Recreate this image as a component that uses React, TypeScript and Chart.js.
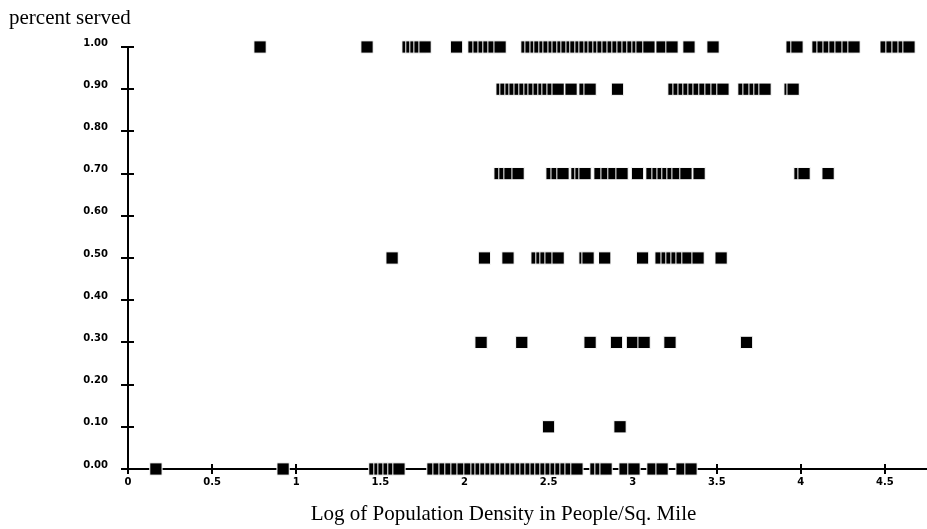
import React, { useEffect, useRef } from 'react';
import { Chart, registerables } from 'chart.js';

Chart.register(...registerables);

// ---- tick values and labels ----
const xTickValues = [0, 0.5, 1, 1.5, 2, 2.5, 3, 3.5, 4, 4.5];
const xTickLabels = ['0', '0.5', '1', '1.5', '2', '2.5', '3', '3.5', '4', '4.5'];
const yTickValues = [0, 0.1, 0.2, 0.3, 0.4, 0.5, 0.6, 0.7, 0.8, 0.9, 1.0];
const yTickLabels = ['0.00', '0.10', '0.20', '0.30', '0.40', '0.50', '0.60', '0.70', '0.80', '0.90', '1.00'];

const chartTitle = 'percent served';
const xAxisTitle = 'Log of Population Density in People/Sq. Mile';

// ---- data: log population density of each observation, grouped by percent served ----
const served100 = [
  0.785, 1.421, 1.665, 1.688, 1.712, 1.736, 1.766, 1.953, 2.057, 2.087, 2.117, 2.146, 2.176, 2.212,
  2.372, 2.396, 2.426, 2.449, 2.479, 2.503, 2.533, 2.557, 2.586, 2.61, 2.64, 2.663, 2.693, 2.717,
  2.747, 2.771, 2.8, 2.824, 2.854, 2.884, 2.913, 2.943, 2.973, 3.002, 3.032,
  3.056, 3.097, 3.175, 3.234, 3.335, 3.478,
  3.948, 3.977, 4.102, 4.132, 4.168, 4.203, 4.239, 4.281, 4.316,
  4.507, 4.542, 4.578, 4.614, 4.643,
];
const served090 = [
  2.224, 2.247, 2.277, 2.301, 2.331, 2.36, 2.39, 2.414, 2.444, 2.473, 2.497, 2.527, 2.557,
  2.634, 2.717, 2.747, 2.91,
  3.246, 3.276, 3.306, 3.335, 3.365, 3.395, 3.43, 3.466, 3.502, 3.537,
  3.662, 3.692, 3.728, 3.757, 3.787, 3.936, 3.954,
];
const served070 = [
  2.212, 2.241, 2.271, 2.319, 2.521, 2.551, 2.586, 2.669, 2.693, 2.717,
  2.806, 2.848, 2.889, 2.937, 3.029, 3.115, 3.151, 3.181, 3.21, 3.24, 3.27, 3.317, 3.395,
  3.995, 4.019, 4.162,
];
const served050 = [
  1.57, 2.119, 2.259, 2.432, 2.461, 2.485, 2.515, 2.557, 2.717, 2.735, 2.834,
  3.059, 3.169, 3.205, 3.234, 3.264, 3.294, 3.329, 3.389, 3.526,
];
const served030 = [2.099, 2.341, 2.747, 2.904, 2.999, 3.068, 3.222, 3.677];
const served010 = [2.5, 2.925];
const served000 = [
  0.166, 0.922, 1.468, 1.498, 1.522, 1.552, 1.581, 1.611,
  1.813, 1.849, 1.885, 1.92, 1.956, 1.992, 2.033, 2.075, 2.099, 2.128, 2.158, 2.188, 2.218,
  2.247, 2.277, 2.307, 2.337, 2.366, 2.396, 2.426, 2.455, 2.485, 2.515, 2.545, 2.574, 2.604,
  2.634, 2.669, 2.782, 2.812, 2.842, 2.955, 3.008, 3.121, 3.175, 3.294, 3.347,
];

const rowLevels = [1.0, 0.9, 0.7, 0.5, 0.3, 0.1, 0.0];
const rowSeries = [served100, served090, served070, served050, served030, served010, served000];

const W = 927;
const H = 529;

const axisDecor = {
  id: 'axisDecor',
  beforeDatasetsDraw(chart: any) {
    const { ctx, scales } = chart;
    const xs = scales.x;
    const ys = scales.y;
    const x0 = xs.getPixelForValue(0);
    const y0 = ys.getPixelForValue(0);
    ctx.save();
    ctx.strokeStyle = '#000';
    ctx.lineWidth = 2;
    ctx.beginPath();
    ys.ticks.forEach((t: any) => {
      const py = Math.round(ys.getPixelForValue(t.value));
      ctx.moveTo(x0 - 7, py);
      ctx.lineTo(x0 + 6, py);
    });
    xs.ticks.forEach((t: any) => {
      const px = Math.round(xs.getPixelForValue(t.value));
      ctx.moveTo(px, y0 - 5);
      ctx.lineTo(px, y0 + 5);
    });
    ctx.stroke();
    ctx.restore();
  },
  afterDraw(chart: any) {
    const { ctx } = chart;
    ctx.save();
    ctx.fillStyle = '#000';
    ctx.font = '21px "Liberation Serif"';
    ctx.textAlign = 'center';
    ctx.textBaseline = 'alphabetic';
    ctx.fillText(xAxisTitle, 503.5, 520);
    ctx.restore();
  },
};

export default function App() {
  const ref = useRef<HTMLCanvasElement | null>(null);

  useEffect(() => {
    if (!ref.current) return;
    const tickFont = { family: 'DejaVu Sans', size: 10, weight: 'bold' as const };
    const chart = new Chart(ref.current, {
      type: 'scatter',
      data: {
        datasets: rowSeries.map((xs, i) => ({
          label: yTickLabels[Math.round(rowLevels[i] * 10)],
          data: xs.map((x) => ({ x, y: rowLevels[i] })),
          pointStyle: 'rect',
          pointRadius: 8.7,
          pointHoverRadius: 8.7,
          backgroundColor: '#000',
          borderColor: '#fff',
          borderWidth: 1,
          clip: false as any,
        })),
      },
      options: {
        responsive: false,
        animation: false,
        devicePixelRatio: 1,
        events: [],
        layout: { autoPadding: false, padding: { left: 9, top: 0, right: 0, bottom: 0 } },
        plugins: {
          legend: { display: false },
          tooltip: { enabled: false },
          title: {
            display: true,
            text: chartTitle,
            align: 'start',
            color: '#000',
            font: { family: 'Liberation Serif', size: 21, weight: 'normal', lineHeight: 1 },
            padding: { top: 7.5, bottom: 18.5 },
          },
        },
        scales: {
          x: {
            type: 'linear',
            min: 0,
            max: 4.75,
            afterBuildTicks: (s: any) => {
              s.ticks = xTickValues.map((v) => ({ value: v }));
            },
            afterFit: (s: any) => {
              s.height = 60;
            },
            grid: { display: false, drawTicks: false },
            border: { display: true, color: '#000', width: 2 },
            ticks: {
              autoSkip: false,
              maxRotation: 0,
              padding: 7,
              color: '#000',
              font: tickFont,
              callback: (_v: any, i: number) => xTickLabels[i],
            },
          },
          y: {
            type: 'linear',
            min: 0,
            max: 1,
            afterBuildTicks: (s: any) => {
              s.ticks = yTickValues.map((v) => ({ value: v }));
            },
            afterFit: (s: any) => {
              s.width = 119;
            },
            grid: { display: false, drawTicks: false },
            border: { display: true, color: '#000', width: 2 },
            ticks: {
              autoSkip: false,
              padding: 20,
              labelOffset: -4,
              color: '#000',
              font: tickFont,
              callback: (_v: any, i: number) => yTickLabels[i],
            },
          },
        },
      },
      plugins: [axisDecor],
    });
    return () => chart.destroy();
  }, []);

  return (
    <div
      style={{
        position: 'fixed',
        left: 0,
        top: 0,
        width: W,
        height: H,
        overflow: 'hidden',
        background: '#fff',
      }}
    >
      <canvas ref={ref} width={W} height={H} style={{ display: 'block', width: W, height: H }} />
    </div>
  );
}
